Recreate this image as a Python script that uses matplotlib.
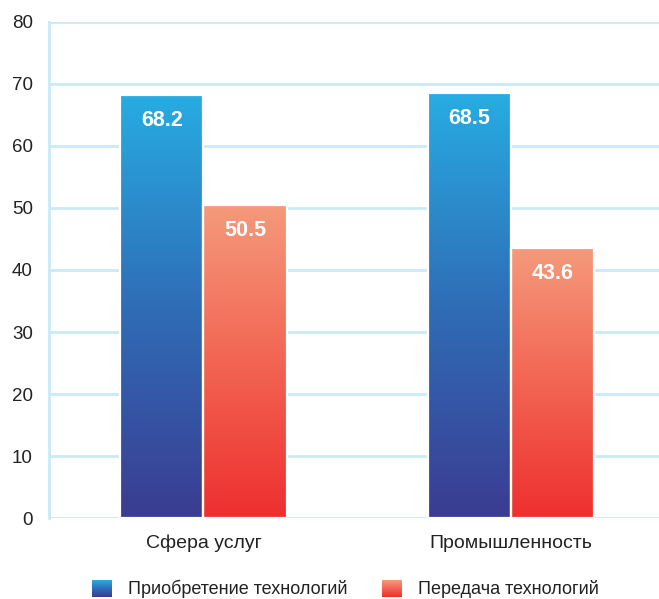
import matplotlib
matplotlib.use("Agg")
import matplotlib.pyplot as plt
import numpy as np
from matplotlib.colors import LinearSegmentedColormap

categories = ["Сфера услуг", "Промышленность"]
series_names = ["Приобретение технологий", "Передача технологий"]
acquisition = [68.2, 68.5]
transfer = [50.5, 43.6]
yticks = [0, 10, 20, 30, 40, 50, 60, 70, 80]

blue_cmap = LinearSegmentedColormap.from_list("blue", ["#3b3c91", "#2f6db7", "#27acE2"])
red_cmap = LinearSegmentedColormap.from_list("red", ["#ee2f2f", "#f26552", "#f59a7c"])

grid_color = "#c9eaf8"
fonts = ["Liberation Sans Narrow", "Liberation Sans", "DejaVu Sans"]

fig = plt.figure(figsize=(6.59, 5.99), dpi=100)
ax = fig.add_axes([0.0751, 0.1352, 0.9249, 0.8281])

gradient = np.linspace(0, 1, 256).reshape(-1, 1)


def gradient_bar(ax, x, h, width, cmap):
    bar = ax.bar(x, h, width, facecolor="none", edgecolor="white",
                 linewidth=1.6, zorder=3)[0]
    img = ax.imshow(gradient, cmap=cmap, origin="lower", aspect="auto",
                    extent=(x - width / 2, x + width / 2, 0, h), zorder=2)
    img.set_clip_path(bar)
    return bar


x = np.arange(len(categories))
width = 0.27
offset = 0.135
for i in range(len(categories)):
    gradient_bar(ax, x[i] - offset, acquisition[i], width, blue_cmap)
    gradient_bar(ax, x[i] + offset, transfer[i], width, red_cmap)
    ax.text(x[i] - offset, acquisition[i] - 4.1, f"{acquisition[i]:.1f}",
            ha="center", va="center", color="white", fontsize=15.5,
            fontweight="bold", family=["Liberation Sans", "DejaVu Sans"], zorder=4)
    ax.text(x[i] + offset, transfer[i] - 4.1, f"{transfer[i]:.1f}",
            ha="center", va="center", color="white", fontsize=15.5,
            fontweight="bold", family=["Liberation Sans", "DejaVu Sans"], zorder=4)

ax.set_xlim(-0.5, 1.48)
ax.set_ylim(0, 80)
ax.set_yticks(yticks)
ax.set_xticks(x)
ax.set_xticklabels(categories, fontsize=14, family=fonts, color="#222222")
for lab in ax.get_yticklabels():
    lab.set_fontsize(13.5)
    lab.set_family(["Liberation Sans", "DejaVu Sans"])
    lab.set_color("#222222")
ax.tick_params(axis="y", length=0, pad=12)
ax.tick_params(axis="x", length=0, pad=12)

ax.grid(axis="y", color=grid_color, linewidth=2, zorder=1)
ax.set_axisbelow(True)
for side in ["top", "right", "bottom"]:
    ax.spines[side].set_visible(False)
ax.spines["left"].set_color(grid_color)
ax.spines["left"].set_linewidth(2)

# legend drawn by hand so the squares keep the gradient
W, H = 659, 599
legend_items = [(92, 128, blue_cmap, series_names[0]),
                (382, 418, red_cmap, series_names[1])]
for sx, tx, cmap, name in legend_items:
    lax = fig.add_axes([sx / W, (H - 597) / H, 20 / W, 17 / H])
    lax.imshow(gradient, cmap=cmap, origin="lower", aspect="auto")
    lax.axis("off")
    fig.text(tx / W, (H - 589) / H, name, ha="left", va="center",
             fontsize=13, family=fonts, color="#222222")

fig.savefig("out.png", dpi=100)
